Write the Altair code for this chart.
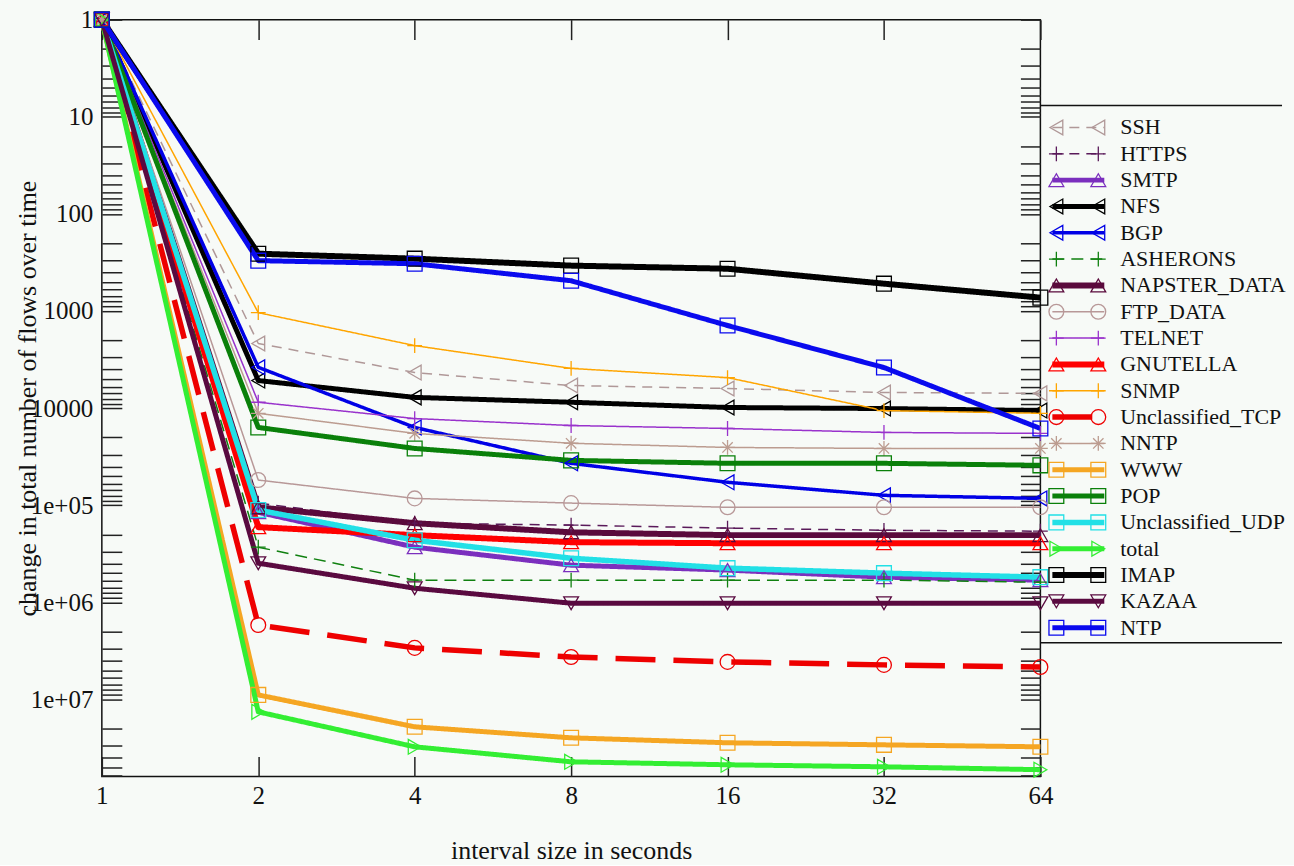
import altair as alt
import pandas as pd

# ---------------- data ----------------
INTERVALS = [1, 2, 4, 8, 16, 32, 64]

SERIES = ["SSH", "HTTPS", "SMTP", "NFS", "BGP", "ASHERONS", "NAPSTER_DATA",
          "FTP_DATA", "TELNET", "GNUTELLA", "SNMP", "Unclassified_TCP", "NNTP",
          "WWW", "POP", "Unclassified_UDP", "total", "IMAP", "KAZAA", "NTP"]

SSH = [1, 2160, 4300, 5850, 6280, 6900, 7050]
HTTPS = [1, 95000, 153000, 160000, 172000, 181000, 185000]
SMTP = [1, 118000, 270000, 414000, 465000, 550000, 590000]
NFS = [1, 5200, 7750, 8700, 9850, 10100, 10600]
BGP = [1, 3800, 15800, 37000, 58000, 79000, 85000]
ASHERONS = [1, 270000, 590000, 590000, 590000, 590000, 620000]
NAPSTER_DATA = [1, 105000, 153000, 190000, 203000, 203000, 203000]
FTP_DATA = [1, 55000, 85000, 95000, 105000, 105000, 105000]
TELNET = [1, 8700, 12800, 15100, 16200, 17800, 18200]
GNUTELLA = [1, 168000, 203000, 240000, 246000, 246000, 246000]
SNMP = [1, 1040, 2270, 3900, 4850, 10600, 11300]
UNCLASSIFIED_TCP = [1, 1710000, 2940000, 3650000, 4100000, 4400000, 4620000]
NNTP = [1, 11300, 18200, 23000, 25400, 26000, 26000]
WWW = [1, 8970000, 19100000, 24800000, 27900000, 29300000, 30700000]
POP = [1, 15800, 26000, 34500, 37000, 37000, 38800]
UNCLASSIFIED_UDP = [1, 112000, 229000, 351000, 444000, 500000, 550000]
TOTAL = [1, 13400000, 30700000, 43800000, 47000000, 49300000, 52800000]
IMAP = [1, 257, 289, 341, 367, 523, 728]
KAZAA = [1, 395000, 715000, 1020000, 1020000, 1020000, 1020000]
NTP = [1, 303, 326, 488, 1410, 3820, 16200]

VALUES = [SSH, HTTPS, SMTP, NFS, BGP, ASHERONS, NAPSTER_DATA, FTP_DATA, TELNET,
          GNUTELLA, SNMP, UNCLASSIFIED_TCP, NNTP, WWW, POP, UNCLASSIFIED_UDP,
          TOTAL, IMAP, KAZAA, NTP]

X_TICKS = [1, 2, 4, 8, 16, 32, 64]
Y_MAJOR = [1, 10, 100, 1000, 10000, 100000, 1000000, 10000000]
Y_LABELS = ["1", "10", "100", "1000", "10000", "1e+05", "1e+06", "1e+07"]
Y_MAX = 62000000

# ---------------- styles ----------------
PLUS = "M-1,0L1,0M0,-1L0,1"
STAR = "M-1,0L1,0M0,-1L0,1M-0.7,-0.7L0.7,0.7M-0.7,0.7L0.7,-0.7"

COLORS = ["#b09898", "#5a1a5a", "#7b2fbe", "#000000", "#0000e6", "#108010",
          "#5a0a3c", "#b89898", "#9932cc", "#ff0000", "#ffa500", "#ee0000",
          "#bc9c90", "#f5a623", "#0a800a", "#22e0e6", "#33ee33", "#000000",
          "#5a0a40", "#0a0aee"]
WIDTHS = [1.5, 1.5, 5, 5, 3.5, 1.5, 6, 1.5, 1.5, 6, 1.5, 5.5, 1.5, 5, 5, 5.5,
          5, 6, 5, 5]
DASHES = [[10, 7], [10, 7], [1, 0], [1, 0], [1, 0], [12, 7], [1, 0], [1, 0],
          [1, 0], [1, 0], [1, 0], [40, 18], [1, 0], [1, 0], [1, 0], [1, 0],
          [1, 0], [1, 0], [1, 0], [1, 0]]
SHAPES = ["triangle-left", PLUS, "triangle-up", "triangle-left", "triangle-left",
          PLUS, "triangle-up", "circle", PLUS, "triangle-up", PLUS, "circle",
          STAR, "square", "square", "square", "triangle-right", "square",
          "triangle-down", "square"]

FONT = "Liberation Serif"
TXT = "#111111"
MSIZE = 220

rows = []
for name, vals in zip(SERIES, VALUES):
    for x, v in zip(INTERVALS, vals):
        rows.append({"series": name, "interval": x, "value": v})
df = pd.DataFrame(rows)

y_ticks = [m * 10 ** k for k in range(0, 8) for m in range(1, 10) if m * 10 ** k <= Y_MAX]
label_expr = ""
for v, lab in zip(Y_MAJOR, Y_LABELS):
    label_expr += f"datum.value == {v} ? '{lab}' : "
label_expr += "''"

x_scale = alt.Scale(type="log", base=2, domain=[1, 64], nice=False)
y_scale = alt.Scale(type="log", domain=[1, Y_MAX], reverse=True, nice=False)
color_scale = alt.Scale(domain=SERIES, range=COLORS)
width_scale = alt.Scale(type="ordinal", domain=SERIES, range=WIDTHS)
dash_scale = alt.Scale(domain=SERIES, range=DASHES)
shape_scale = alt.Scale(domain=SERIES, range=SHAPES)

W, H = 940, 758

lines = alt.Chart(df).mark_line(clip=False, strokeJoin="round").encode(
    x=alt.X("interval:Q", scale=x_scale, axis=alt.Axis(
        orient="bottom", values=X_TICKS, offset=-20, tickSize=20, tickWidth=1.5,
        tickColor="#222", domain=False, grid=False, labelFont=FONT,
        labelFontSize=25, labelColor=TXT, labelPadding=7, labelFlush=False,
        labelOverlap=False, format="d",
        title="interval size in seconds", titleFont=FONT, titleFontSize=26,
        titleFontWeight="normal", titleColor=TXT, titlePadding=29)),
    y=alt.Y("value:Q", scale=y_scale, axis=alt.Axis(
        orient="left", values=y_ticks, labelExpr=label_expr, offset=-20,
        tickSize=20, tickWidth=1.5, tickColor="#222", domain=False, grid=False,
        labelFont=FONT, labelFontSize=25, labelColor=TXT, labelPadding=9,
        labelFlush=False, labelOverlap=False,
        title="change in total number of flows over time", titleFont=FONT,
        titleFontSize=26, titleFontWeight="normal", titleColor=TXT,
        titlePadding=-10)),
    color=alt.Color("series:N", scale=color_scale, legend=None),
    strokeWidth=alt.StrokeWidth("series:N", scale=width_scale, legend=None),
    strokeDash=alt.StrokeDash("series:N", scale=dash_scale, legend=None),
)

points = alt.Chart(df).mark_point(filled=False, size=MSIZE, strokeWidth=1.3,
                                  opacity=1, clip=False).encode(
    x=alt.X("interval:Q", scale=x_scale, axis=None),
    y=alt.Y("value:Q", scale=y_scale, axis=None),
    color=alt.Color("series:N", scale=color_scale, legend=None),
    shape=alt.Shape("series:N", scale=shape_scale, legend=None),
)

mirror = alt.Chart(df).mark_point(opacity=0).encode(
    x=alt.X("interval:Q", scale=x_scale, axis=alt.Axis(
        orient="top", values=X_TICKS, offset=-20, tickSize=20, tickWidth=1.5,
        tickColor="#222", domain=False, grid=False, labels=False, title=None)),
    y=alt.Y("value:Q", scale=y_scale, axis=alt.Axis(
        orient="right", values=y_ticks, offset=-20, tickSize=20, tickWidth=1.5,
        tickColor="#222", domain=False, grid=False, labels=False, title=None)),
)

main = alt.layer(lines, points, mirror).resolve_axis(
    x="independent", y="independent"
).properties(width=W, height=H,
             view=alt.ViewBackground(stroke="#111", strokeWidth=1.5))

# ---------------- legend panel ----------------
leg_df = pd.DataFrame({"series": SERIES})
ly = alt.Y("series:N", scale=alt.Scale(type="point", domain=SERIES,
                                       range=[108, 609], padding=0),
           axis=None)

leg_line = alt.Chart(leg_df).mark_rule().encode(
    x=alt.value(12), x2=alt.value(64), y=ly,
    color=alt.Color("series:N", scale=color_scale, legend=None),
    strokeWidth=alt.StrokeWidth("series:N", scale=width_scale, legend=None),
    strokeDash=alt.StrokeDash("series:N", scale=dash_scale, legend=None),
)
leg_p1 = alt.Chart(leg_df).mark_point(filled=False, size=MSIZE, strokeWidth=1.3,
                                      opacity=1).encode(
    x=alt.value(16), y=ly,
    color=alt.Color("series:N", scale=color_scale, legend=None),
    shape=alt.Shape("series:N", scale=shape_scale, legend=None),
)
leg_p2 = alt.Chart(leg_df).mark_point(filled=False, size=MSIZE, strokeWidth=1.3,
                                      opacity=1).encode(
    x=alt.value(58), y=ly,
    color=alt.Color("series:N", scale=color_scale, legend=None),
    shape=alt.Shape("series:N", scale=shape_scale, legend=None),
)
leg_text = alt.Chart(leg_df).mark_text(align="left", baseline="middle", font=FONT,
                                       fontSize=22, color=TXT, limit=172,
                                       ellipsis="").encode(
    x=alt.value(80), y=ly, text="series:N")

one = alt.Data(values=[{"k": 0}])
box_top = alt.Chart(one).mark_rule(color="#111", strokeWidth=1.5).encode(
    x=alt.value(0), x2=alt.value(242), y=alt.value(86))
box_bot = alt.Chart(one).mark_rule(color="#111", strokeWidth=1.5).encode(
    x=alt.value(0), x2=alt.value(242), y=alt.value(624))

legend = alt.layer(box_top, box_bot, leg_line, leg_p1, leg_p2, leg_text).properties(
    width=253, height=H, view=alt.ViewBackground(stroke="transparent"))

chart = alt.hconcat(main, legend, spacing=0, bounds="flush").properties(
    padding={"left": 13, "top": 6, "right": 0, "bottom": 0},
    background="#f7faf7",
).configure_view(stroke="#111", strokeWidth=1.5)

chart.save("out.html", embed_options={"renderer": "svg", "actions": False})
